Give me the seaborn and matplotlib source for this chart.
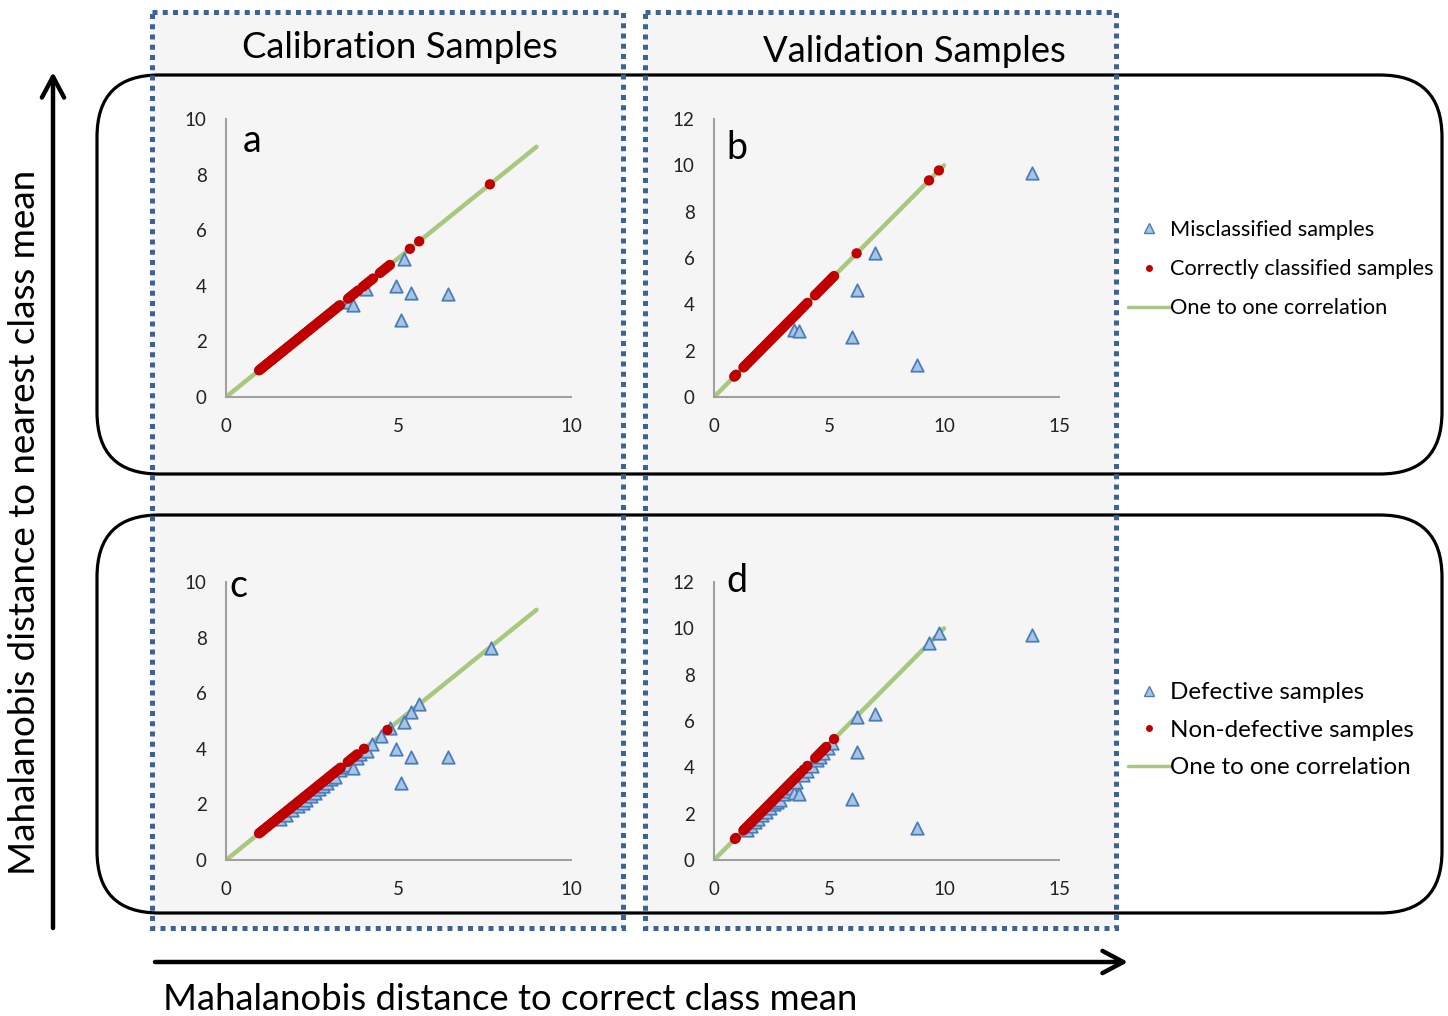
import matplotlib
matplotlib.use("Agg")
import matplotlib.pyplot as plt
import seaborn as sns
from matplotlib.patches import Rectangle, FancyBboxPatch
from matplotlib.lines import Line2D

# ---------------- data ----------------
# Panel a: calibration, correctly classified (on the 1:1 line, y = x)
a_correct = [0.96, 1.00, 1.04, 1.08, 1.12, 1.17, 1.21, 1.25, 1.30, 1.34, 1.38, 1.43,
             1.47, 1.52, 1.56, 1.60, 1.65, 1.69, 1.74, 1.78, 1.82, 1.87, 1.91, 1.96,
             2.00, 2.05, 2.09, 2.13, 2.18, 2.22, 2.27, 2.31, 2.36, 2.40, 2.45, 2.49,
             2.54, 2.58, 2.63, 2.67, 2.72, 2.76, 2.81, 2.85, 2.90, 2.94, 2.99, 3.03,
             3.08, 3.12, 3.17, 3.21, 3.26, 3.30, 3.54, 3.60, 3.66, 3.72, 3.78, 3.83,
             3.97, 4.04, 4.11, 4.19, 4.26, 4.46, 4.52, 4.58, 4.64, 4.70, 4.75, 5.33,
             5.60, 7.65]
# Panel a: calibration, misclassified
a_mis_x = [3.57, 3.67, 4.06, 4.93, 5.06, 5.16, 5.35, 6.43]
a_mis_y = [3.43, 3.31, 3.87, 3.99, 2.77, 4.95, 3.73, 3.69]

# Panel b: validation, correctly classified (y = x)
b_correct = [0.88, 0.92, 0.96, 1.28, 1.33, 1.38, 1.44, 1.50, 1.57, 1.63, 1.70, 1.77,
             1.84, 1.91, 1.98, 2.05, 2.12, 2.19, 2.26, 2.33, 2.40, 2.47, 2.54, 2.61,
             2.68, 2.75, 2.82, 2.89, 2.96, 3.03, 3.10, 3.17, 3.24, 3.32, 3.40, 3.48,
             3.56, 3.64, 3.75, 3.85, 3.95, 4.06, 4.39, 4.45, 4.52, 4.60, 4.68, 4.76,
             4.84, 4.92, 5.00, 5.08, 5.15, 5.22, 6.20, 9.35, 9.78]
# Panel b: validation, misclassified
b_mis_x = [3.48, 3.71, 5.99, 6.23, 7.00, 8.84, 13.81]
b_mis_y = [2.89, 2.85, 2.60, 4.62, 6.23, 1.38, 9.68]

# Panel c: calibration, non-defective (y = x)
c_nondef = [0.96, 1.00, 1.04, 1.08, 1.12, 1.17, 1.21, 1.25, 1.30, 1.34, 1.38, 1.43,
            1.47, 1.52, 1.56, 1.60, 1.65, 1.69, 1.74, 1.78, 1.82, 1.87, 1.91, 1.96,
            2.00, 2.05, 2.09, 2.13, 2.18, 2.22, 2.27, 2.31, 2.36, 2.40, 2.45, 2.49,
            2.54, 2.58, 2.63, 2.67, 2.72, 2.76, 2.81, 2.85, 2.90, 2.94, 2.99, 3.03,
            3.08, 3.12, 3.17, 3.21, 3.26, 3.32, 3.53, 3.60, 3.67, 3.74, 3.80, 4.00,
            4.68]
# Panel c: calibration, defective
c_def_x = [1.57, 1.75, 1.92, 2.10, 2.22, 2.33, 2.45, 2.58, 2.70, 2.82, 2.92, 3.05,
           3.15, 3.30, 3.45, 3.57, 3.69, 3.79, 3.88, 4.08, 4.22, 4.48, 4.75, 4.93,
           5.06, 5.16, 5.35, 5.35, 5.60, 6.43, 7.67]
c_def_y = [1.46, 1.63, 1.80, 1.94, 2.06, 2.16, 2.30, 2.40, 2.55, 2.66, 2.76, 2.90,
           3.00, 3.24, 3.35, 3.43, 3.30, 3.66, 3.82, 3.92, 4.19, 4.47, 4.74, 3.98,
           2.78, 4.95, 5.33, 3.72, 5.60, 3.69, 7.64]

# Panel d: validation, non-defective (y = x)
d_nondef = [0.91, 0.95, 1.28, 1.33, 1.38, 1.44, 1.50, 1.57, 1.63, 1.70, 1.77, 1.84,
            1.91, 1.98, 2.05, 2.12, 2.19, 2.26, 2.33, 2.40, 2.47, 2.54, 2.61, 2.68,
            2.75, 2.82, 2.89, 2.96, 3.03, 3.10, 3.17, 3.24, 3.32, 3.40, 3.48, 3.56,
            3.64, 3.77, 3.90, 4.06, 4.40, 4.48, 4.56, 4.64, 4.72, 4.80, 4.88, 5.22]
# Panel d: validation, defective
d_def_x = [1.42, 1.60, 1.78, 1.92, 2.07, 2.25, 2.42, 2.60, 2.72, 2.87, 3.05, 3.20,
           3.38, 3.48, 3.55, 3.71, 3.88, 4.05, 4.25, 4.46, 4.62, 4.75, 4.95, 5.12,
           5.99, 6.20, 6.23, 7.00, 8.84, 9.35, 9.78, 13.81]
d_def_y = [1.29, 1.47, 1.62, 1.78, 1.94, 2.08, 2.25, 2.40, 2.50, 2.59, 2.85, 2.98,
           3.09, 2.91, 3.35, 2.85, 3.67, 3.85, 4.05, 4.32, 4.45, 4.60, 4.85, 5.03,
           2.62, 6.19, 4.67, 6.29, 1.37, 9.35, 9.78, 9.71]

# one-to-one lines
line_cal = [0, 9]
line_val = [0, 10]

# ticks
cal_xticks = [0, 5, 10]
cal_yticks = [0, 2, 4, 6, 8, 10]
val_xticks = [0, 5, 10, 15]
val_yticks = [0, 2, 4, 6, 8, 10, 12]

# texts
col_titles = ["Calibration Samples", "Validation Samples"]
panel_letters = ["a", "b", "c", "d"]
legend_top = ["Misclassified samples", "Correctly classified samples", "One to one correlation"]
legend_bot = ["Defective samples", "Non-defective samples", "One to one correlation"]
ylabel = "Mahalanobis distance to nearest class mean"
xlabel = "Mahalanobis distance to correct class mean"

# ---------------- style ----------------
sns.set_style("white")
plt.rcParams['font.family'] = ['Lato', 'DejaVu Sans']
plt.rcParams['text.color'] = 'black'

W, H = 1448, 1016
RED = "#c00000"
TRI_FC = "#a9c3e3"
TRI_EC = "#4a7ebb"
GREEN = "#a8c880"
DOT_BLUE = "#3a6497"
GRAY_BG = "#f5f5f5"

fig = plt.figure(figsize=(W / 100, H / 100), dpi=100)
fig.patch.set_facecolor("white")

bg = fig.add_axes([0, 0, 1, 1])
bg.set_xlim(0, W)
bg.set_ylim(H, 0)
bg.axis("off")
bg.set_zorder(0)

# gray column backgrounds and dotted frames
for x0, x1 in [(152, 623), (645, 1116)]:
    bg.add_patch(Rectangle((x0, 12), x1 - x0, 916, facecolor=GRAY_BG, edgecolor="none", zorder=1))
for x0, x1 in [(152, 623), (645, 1116)]:
    bg.add_patch(Rectangle((x0, 12), x1 - x0, 916, facecolor="none", edgecolor=DOT_BLUE,
                           lw=3.6, linestyle=(0, (1, 1.05)), zorder=3))

# rounded boxes
for y0, y1 in [(75, 474), (515, 913)]:
    bg.add_patch(FancyBboxPatch((97, y0), 1442 - 97, y1 - y0,
                                boxstyle="round,pad=0,rounding_size=62",
                                facecolor="none", edgecolor="black", lw=2.3, zorder=2))

# arrows
arrow_kw = dict(arrowstyle="->,head_length=0.75,head_width=0.4", lw=3.2, color="black",
                shrinkA=0, shrinkB=0, mutation_scale=20)
bg.annotate("", xy=(53, 72), xytext=(53, 928), arrowprops=arrow_kw)
bg.annotate("", xy=(1128, 962), xytext=(155, 962), arrowprops=arrow_kw)

# labels
bg.text(25, 522, ylabel, rotation=90, ha="center", va="center", fontsize=26.5, color="black")
bg.text(163, 1000, xlabel, ha="left", va="center", fontsize=26.3, color="black")
bg.text(400, 48, col_titles[0], ha="center", va="center", fontsize=26.3, color="black")
bg.text(914, 52, col_titles[1], ha="center", va="center", fontsize=26.3, color="black")


def px_axes(x0, x1, y0, y1):
    return fig.add_axes([x0 / W, 1 - y1 / H, (x1 - x0) / W, (y1 - y0) / H])


panels = [
    dict(box=(226, 571, 119, 397), xlim=10, ylim=10, xt=cal_xticks, yt=cal_yticks,
         line=line_cal, tx=a_mis_x, ty=a_mis_y, red=a_correct, letter=panel_letters[0],
         lpos=(0.05, 0.92)),
    dict(box=(714, 1059, 119, 397), xlim=15, ylim=12, xt=val_xticks, yt=val_yticks,
         line=line_val, tx=b_mis_x, ty=b_mis_y, red=b_correct, letter=panel_letters[1],
         lpos=(0.035, 0.895)),
    dict(box=(226, 571, 582, 860), xlim=10, ylim=10, xt=cal_xticks, yt=cal_yticks,
         line=line_cal, tx=c_def_x, ty=c_def_y, red=c_nondef, letter=panel_letters[2],
         lpos=(0.01, 0.985)),
    dict(box=(714, 1059, 582, 860), xlim=15, ylim=12, xt=val_xticks, yt=val_yticks,
         line=line_val, tx=d_def_x, ty=d_def_y, red=d_nondef, letter=panel_letters[3],
         lpos=(0.035, 1.005)),
]

for p in panels:
    ax = px_axes(*p["box"])
    ax.set_zorder(5)
    ax.set_facecolor("none")
    sns.lineplot(x=p["line"], y=p["line"], ax=ax, color=GREEN, linewidth=3.2,
                 solid_capstyle="round", zorder=2)
    sns.scatterplot(x=p["tx"], y=p["ty"], ax=ax, marker="^", s=80, color=TRI_FC,
                    edgecolor=TRI_EC, linewidth=1.3, zorder=3, legend=False, clip_on=False)
    sns.scatterplot(x=p["red"], y=p["red"], ax=ax, marker="o", s=55, color=RED,
                    edgecolor="none", zorder=4, legend=False, clip_on=False)
    ax.set_xlim(0, p["xlim"])
    ax.set_ylim(0, p["ylim"])
    ax.set_xticks(p["xt"])
    ax.set_yticks(p["yt"])
    ax.set_xlabel("")
    ax.set_ylabel("")
    for s in ["top", "right"]:
        ax.spines[s].set_visible(False)
    for s in ["left", "bottom"]:
        ax.spines[s].set_color("#a0a0a0")
        ax.spines[s].set_linewidth(1.5)
    ax.tick_params(axis="both", length=0, labelsize=13.5, colors="#222222")
    ax.tick_params(axis="x", pad=15)
    ax.tick_params(axis="y", pad=14)
    ax.text(p["lpos"][0], p["lpos"][1], p["letter"], transform=ax.transAxes,
            ha="left", va="center", fontsize=27, color="black")

# legends
def handles():
    return [
        Line2D([], [], marker="^", ls="", markersize=7, markerfacecolor=TRI_FC,
               markeredgecolor=TRI_EC, markeredgewidth=1.0),
        Line2D([], [], marker="o", ls="", markersize=5, markerfacecolor=RED,
               markeredgecolor="none"),
        Line2D([], [], color=GREEN, lw=2.5),
    ]

fig.legend(handles(), legend_top, loc="upper left", bbox_to_anchor=(1128 / W, 1 - 220 / H),
           frameon=False, fontsize=15.7, handlelength=1.93, handletextpad=0.0,
           labelspacing=0.88, borderpad=0, borderaxespad=0, labelcolor="black")
fig.legend(handles(), legend_bot, loc="upper left", bbox_to_anchor=(1128 / W, 1 - 682 / H),
           frameon=False, fontsize=17.4, handlelength=1.74, handletextpad=0.0,
           labelspacing=0.69, borderpad=0, borderaxespad=0, labelcolor="black")

fig.savefig("out.png", dpi=100, facecolor="white")
